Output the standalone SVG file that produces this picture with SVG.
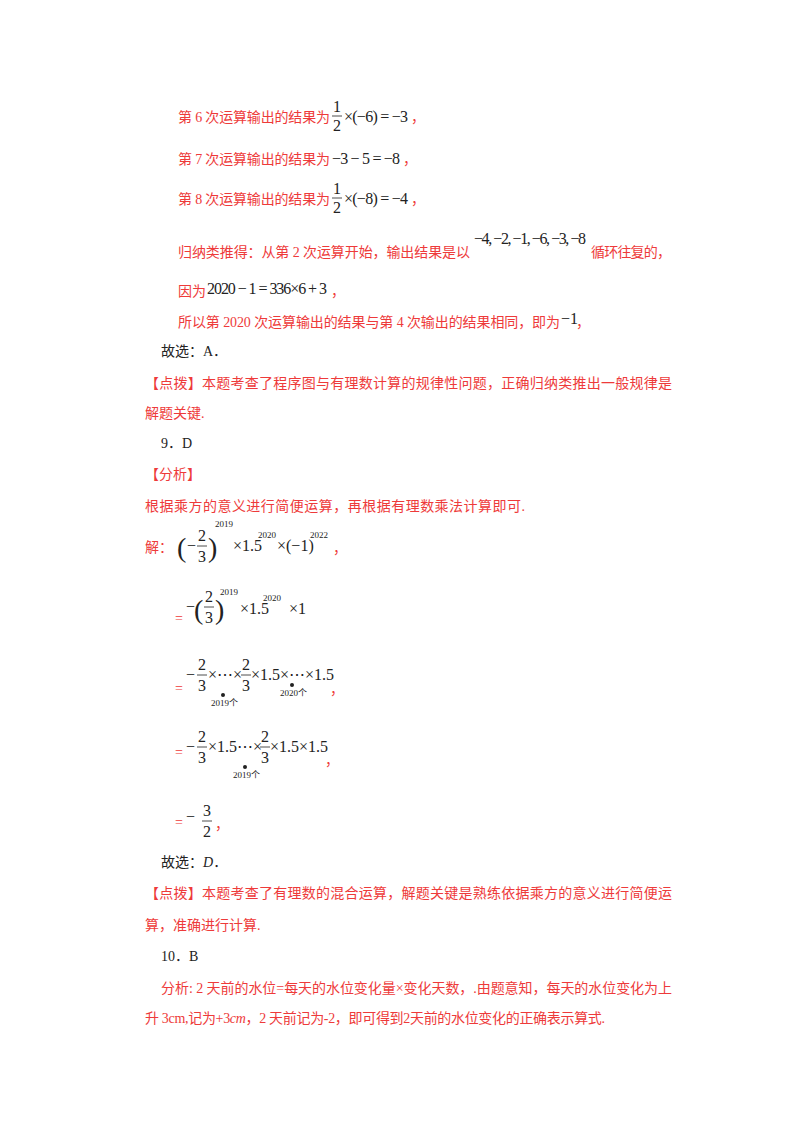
<svg xmlns="http://www.w3.org/2000/svg" width="800" height="1132" viewBox="0 0 800 1132">
<style>
.r{font-family:"Liberation Serif","Noto Sans CJK SC",serif;font-size:14px;fill:#ee3a3a}
.k{font-family:"Liberation Serif","Noto Sans CJK SC",serif;font-size:14px;fill:#222}
.m{font-family:"Liberation Serif",serif;font-size:16px;fill:#222}
.p{font-family:"Liberation Serif",serif;font-size:28px;fill:#222}
.s{font-family:"Liberation Serif",serif;font-size:9px;fill:#222}
.t{font-family:"Liberation Serif","Noto Sans CJK SC",serif;font-size:9px;fill:#222}
.fl{stroke:#222;stroke-width:0.8}
</style>
<rect width="800" height="1132" fill="#fff"/>
<text class="r" x="178" y="122" textLength="152">第 6 次运算输出的结果为</text>
<text class="m" x="333" y="112">1</text><line class="fl" x1="332" y1="116" x2="342" y2="116"/><text class="m" x="333" y="131">2</text>
<text class="m" x="344" y="122" textLength="64">×(−6) = −3</text><text class="r" x="411" y="122">，</text>
<text class="r" x="178" y="164" textLength="152">第 7 次运算输出的结果为</text><text class="m" x="332" y="164" textLength="68">−3 − 5 = −8</text><text class="r" x="403" y="164">，</text>
<text class="r" x="178" y="204" textLength="152">第 8 次运算输出的结果为</text>
<text class="m" x="333" y="194">1</text><line class="fl" x1="332" y1="198" x2="342" y2="198"/><text class="m" x="333" y="213">2</text>
<text class="m" x="344" y="204" textLength="64">×(−8) = −4</text><text class="r" x="411" y="204">，</text>
<text class="r" x="178" y="257" textLength="292">归纳类推得：从第 2 次运算开始，输出结果是以</text>
<text class="m" x="474" y="244" textLength="112">−4, −2, −1, −6, −3, −8</text>
<text class="r" x="591" y="257" textLength="80">循环往复的，</text>
<text class="r" x="178" y="296" textLength="28">因为</text><text class="m" x="207" y="294" textLength="120">2020 − 1 = 336×6 + 3</text><text class="r" x="331" y="296">，</text>
<text class="r" x="178" y="327" textLength="382">所以第 2020 次运算输出的结果与第 4 次输出的结果相同，即为</text><text class="m" x="561" y="324">−1</text><text class="r" x="576" y="327">，</text>
<text class="k" x="161" y="356">故选：A．</text>
<text class="r" x="145" y="388" textLength="527">【点拨】本题考查了程序图与有理数计算的规律性问题，正确归纳类推出一般规律是</text>
<text class="r" x="145" y="418">解题关键.</text>
<text class="k" x="161" y="448">9．D</text>
<text class="r" x="145" y="479">【分析】</text>
<text class="r" x="145" y="511" textLength="380">根据乘方的意义进行简便运算，再根据有理数乘法计算即可.</text>
<text class="r" x="145" y="552">解：</text>
<text class="p" x="177" y="557">(</text>
<text class="m" x="187" y="551">−</text><text class="m" x="198" y="541">2</text><line class="fl" x1="197" y1="546" x2="207" y2="546"/><text class="m" x="198" y="562">3</text>
<text class="p" x="208" y="557">)</text>
<text class="s" x="215" y="527">2019</text>
<text class="m" x="233" y="551">×1.5</text><text class="s" x="258" y="538">2020</text>
<text class="m" x="277" y="551">×(−1)</text><text class="s" x="310" y="538">2022</text>
<text class="r" x="333" y="553">，</text>
<text class="r" x="175" y="623">=</text>
<text class="m" x="186" y="612">−</text>
<text class="p" x="194" y="619">(</text>
<text class="m" x="205" y="602">2</text><line class="fl" x1="204" y1="607" x2="214" y2="607"/><text class="m" x="205" y="623">3</text>
<text class="p" x="215" y="619">)</text>
<text class="s" x="220" y="595">2019</text>
<text class="m" x="240" y="614">×1.5</text><text class="s" x="263" y="601">2020</text>
<text class="m" x="289" y="614">×1</text>
<text class="r" x="175" y="693">=</text>
<text class="m" x="186" y="680">−</text><text class="m" x="198" y="670">2</text><line class="fl" x1="197" y1="675" x2="207" y2="675"/><text class="m" x="198" y="691">3</text>
<text class="m" x="208" y="680">×⋯×</text>
<text class="m" x="242" y="670">2</text><line class="fl" x1="241" y1="675" x2="251" y2="675"/><text class="m" x="242" y="691">3</text>
<text class="m" x="251" y="680">×1.5×⋯×1.5</text>
<circle cx="223" cy="695" r="2" fill="#222"/><text class="t" x="211" y="706">2019个</text>
<circle cx="292" cy="685" r="2" fill="#222"/><text class="t" x="280" y="696">2020个</text>
<text class="r" x="330" y="694">，</text>
<text class="r" x="175" y="757">=</text>
<text class="m" x="186" y="752">−</text><text class="m" x="198" y="742">2</text><line class="fl" x1="197" y1="747" x2="207" y2="747"/><text class="m" x="198" y="763">3</text>
<text class="m" x="208" y="752">×1.5⋯×</text>
<text class="m" x="261" y="742">2</text><line class="fl" x1="260" y1="747" x2="270" y2="747"/><text class="m" x="261" y="763">3</text>
<text class="m" x="270" y="752">×1.5×1.5</text>
<circle cx="245" cy="767" r="2" fill="#222"/><text class="t" x="233" y="778">2019个</text>
<text class="r" x="325" y="765">，</text>
<text class="r" x="175" y="827">=</text><text class="m" x="186" y="822">−</text>
<text class="m" x="203" y="816">3</text><line class="fl" x1="202" y1="821" x2="212" y2="821"/><text class="m" x="203" y="837">2</text>
<text class="r" x="215" y="829">，</text>
<text class="k" x="161" y="867">故选：<tspan font-style="italic">D</tspan>．</text>
<text class="r" x="145" y="898" textLength="527">【点拨】本题考查了有理数的混合运算，解题关键是熟练依据乘方的意义进行简便运</text>
<text class="r" x="145" y="930">算，准确进行计算.</text>
<text class="k" x="161" y="961">10．B</text>
<text class="r" x="161" y="993" textLength="511">分析: 2 天前的水位=每天的水位变化量×变化天数，.由题意知，每天的水位变化为上</text>
<text class="r" x="145" y="1023" textLength="460">升 3cm,记为+3<tspan font-style="italic">cm</tspan>，2 天前记为-2，即可得到2天前的水位变化的正确表示算式.</text>
</svg>
